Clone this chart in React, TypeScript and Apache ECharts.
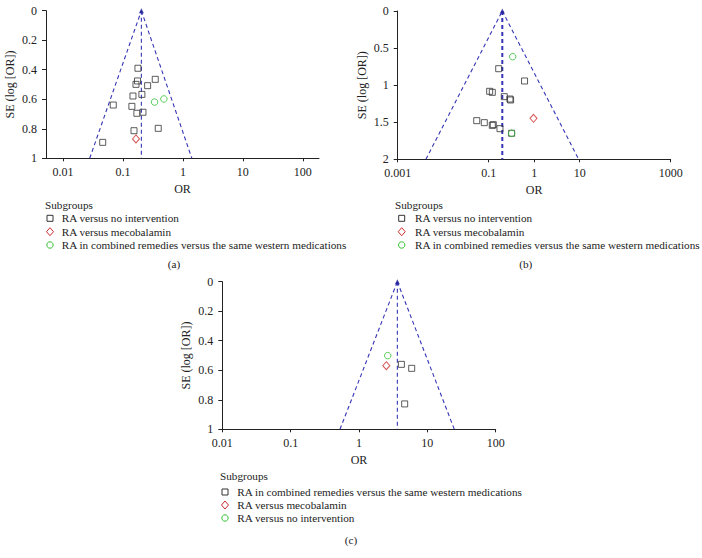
import React, { useEffect, useRef } from "react";
import * as echarts from "echarts";

const FONT = '"Liberation Serif", "Times New Roman", serif';

// ---------- Panel (a) ----------
const aSquareOR = [0.178, 0.346, 0.175, 0.165, 0.258, 0.207, 0.147, 0.069, 0.141, 0.171, 0.216, 0.388, 0.153, 0.046];
const aSquareSE = [0.39, 0.465, 0.476, 0.499, 0.508, 0.567, 0.578, 0.639, 0.648, 0.695, 0.688, 0.797, 0.813, 0.892];
const aDiamondOR = [0.165];
const aDiamondSE = [0.869];
const aCircleOR = [0.337, 0.482];
const aCircleSE = [0.619, 0.598];
const aFunnelOR = [0.0279, 0.203, 1.41]; // left base, apex, right base
const aFunnelSE = [1, 0, 1];
const aTickLabels = ["0.01", "0.1", "1", "10", "100"];
const aLegend = ["RA versus no intervention", "RA versus mecobalamin", "RA in combined remedies versus the same western medications"];

// ---------- Panel (b) ----------
const bSquareOR = [0.166, 0.614, 0.105, 0.12, 0.22, 0.293, 0.303, 0.0546, 0.08, 0.12, 0.126, 0.177, 0.319];
const bSquareSE = [0.778, 0.944, 1.083, 1.097, 1.155, 1.187, 1.2, 1.479, 1.506, 1.542, 1.533, 1.587, 1.649];
const bDiamondOR = [0.966];
const bDiamondSE = [1.447];
const bCircleOR = [0.336, 0.319];
const bCircleSE = [0.616, 1.649];
const bFunnelOR = [0.00417, 0.199, 9.5];
const bFunnelSE = [2, 0, 2];
const bTickLabels = ["0.001", "0.1", "1", "10", "1000"];
const bLegend = ["RA versus no intervention", "RA versus mecobalamin", "RA in combined remedies versus the same western medications"];

// ---------- Panel (c) ----------
const cSquareOR = [4.17, 5.9, 4.66];
const cSquareSE = [0.56, 0.587, 0.828];
const cDiamondOR = [2.51];
const cDiamondSE = [0.569];
const cCircleOR = [2.63];
const cCircleSE = [0.501];
const cFunnelOR = [0.527, 3.64, 24.8];
const cFunnelSE = [1, 0, 1];
const cTickLabels = ["0.01", "0.1", "1", "10", "100"];
const cLegend = ["RA in combined remedies versus the same western medications", "RA versus mecobalamin", "RA versus no intervention"];

const BLUE = "#3535b5";
const SQ = "#333333";
const RED = "#cc2b2b";
const GREEN = "#2fc12f";

const lg = (v: number) => Math.log10(v);
const pts = (or: number[], se: number[]) => or.map((o, i) => [lg(o), se[i]]);

function buildPanel(
  idx: number,
  grid: { left: number; top: number; width: number; height: number },
  xMin: number,
  xMax: number,
  yMax: number,
  yInterval: number,
  tickLabels: string[],
  sq: [number[], number[]],
  di: [number[], number[]],
  ci: [number[], number[]],
  fOR: number[],
  fSE: number[],
  nameGapY: number,
  centerWidth: number
) {
  const tickVals = tickLabels.map((t) => lg(parseFloat(t)));
  const xAxis = {
    type: "value",
    gridIndex: idx,
    min: xMin,
    max: xMax,
    name: "OR",
    nameLocation: "middle",
    nameGap: 25,
    nameTextStyle: { fontFamily: FONT, fontSize: 12, color: "#222" },
    axisLine: { onZero: false, lineStyle: { color: "#222", width: 1 } },
    axisTick: { show: true, length: 3, customValues: tickVals, lineStyle: { color: "#222" } },
    axisLabel: {
      customValues: tickVals,
      fontFamily: FONT,
      fontSize: 12,
      color: "#222",
      margin: 8,
      formatter: (v: number) => {
        const i = tickVals.findIndex((t) => Math.abs(t - v) < 1e-6);
        return i >= 0 ? tickLabels[i] : "";
      },
    },
    splitLine: { show: false },
  };
  const yAxis = {
    type: "value",
    gridIndex: idx,
    inverse: true,
    min: 0,
    max: yMax,
    interval: yInterval,
    name: "SE (log [OR])",
    nameLocation: "middle",
    nameGap: nameGapY,
    nameTextStyle: { fontFamily: FONT, fontSize: 12, color: "#222" },
    axisLine: { show: true, onZero: false, lineStyle: { color: "#222", width: 1 } },
    axisTick: { show: true, length: 4, lineStyle: { color: "#222" } },
    axisLabel: { fontFamily: FONT, fontSize: 12, color: "#222", margin: 9 },
    splitLine: { show: false },
  };
  const apex = [lg(fOR[1]), fSE[1]];
  const dashed = { type: [4, 3] as number[], color: BLUE, width: 1.1 };
  const series = [
    {
      type: "line",
      xAxisIndex: idx,
      yAxisIndex: idx,
      data: [[lg(fOR[0]), fSE[0]], apex],
      symbol: "none",
      lineStyle: dashed,
      silent: true,
      z: 1,
    },
    {
      type: "line",
      xAxisIndex: idx,
      yAxisIndex: idx,
      data: [apex, [lg(fOR[2]), fSE[2]]],
      symbol: "none",
      lineStyle: dashed,
      silent: true,
      z: 1,
    },
    {
      type: "line",
      xAxisIndex: idx,
      yAxisIndex: idx,
      data: [apex, [apex[0], fSE[0]]],
      symbol: "none",
      lineStyle: { ...dashed, width: centerWidth },
      silent: true,
      z: 1,
    },
    {
      type: "scatter",
      xAxisIndex: idx,
      yAxisIndex: idx,
      data: [apex],
      symbol: "triangle",
      symbolSize: 5,
      itemStyle: { color: "#1f1f9a" },
      z: 3,
    },
    {
      type: "scatter",
      xAxisIndex: idx,
      yAxisIndex: idx,
      data: pts(sq[0], sq[1]),
      symbol: "rect",
      symbolSize: 6,
      itemStyle: { color: "rgba(255,255,255,0)", borderColor: SQ, borderWidth: 1 },
      z: 4,
    },
    {
      type: "scatter",
      xAxisIndex: idx,
      yAxisIndex: idx,
      data: pts(di[0], di[1]),
      symbol: "diamond",
      symbolSize: [7, 8],
      itemStyle: { color: "rgba(255,255,255,0)", borderColor: RED, borderWidth: 1 },
      z: 4,
    },
    {
      type: "scatter",
      xAxisIndex: idx,
      yAxisIndex: idx,
      data: pts(ci[0], ci[1]),
      symbol: "circle",
      symbolSize: 6.5,
      itemStyle: { color: "rgba(255,255,255,0)", borderColor: GREEN, borderWidth: 1 },
      z: 4,
    },
  ];
  return {
    grid: { ...grid, containLabel: false, outerBoundsMode: "none" },
    xAxis,
    yAxis,
    series,
  };
}

function legendGraphics(
  x: number,
  y: number,
  symX: number,
  textX: number,
  rows: number[],
  labels: string[],
  caption: string,
  capX: number,
  capY: number,
  symbols: string[]
) {
  const els: any[] = [];
  const textStyle = (text: string, tx: number, ty: number, align = "left") => ({
    type: "text",
    x: tx,
    y: ty,
    style: {
      text,
      font: `11.2px ${FONT}`,
      fill: "#222",
      textAlign: align,
      textVerticalAlign: "middle",
    },
  });
  els.push(textStyle("Subgroups", x, y));
  rows.forEach((ry, i) => {
    const s = symbols[i];
    if (s === "square") {
      els.push({
        type: "rect",
        shape: { x: symX - 3, y: ry - 3, width: 6, height: 6 },
        style: { fill: "none", stroke: SQ, lineWidth: 1 },
      });
    } else if (s === "diamond") {
      els.push({
        type: "polygon",
        shape: { points: [[symX, ry - 4], [symX + 3.5, ry], [symX, ry + 4], [symX - 3.5, ry]] },
        style: { fill: "none", stroke: RED, lineWidth: 1 },
      });
    } else {
      els.push({
        type: "circle",
        shape: { cx: symX, cy: ry, r: 3.2 },
        style: { fill: "none", stroke: GREEN, lineWidth: 1 },
      });
    }
    els.push(textStyle(labels[i], textX, ry));
  });
  els.push(textStyle(caption, capX, capY, "center"));
  return els;
}

export default function App() {
  const ref = useRef<HTMLDivElement>(null);
  useEffect(() => {
    if (!ref.current) return;
    const chart = echarts.init(ref.current, undefined, { renderer: "svg" });
    const pa = buildPanel(
      0,
      { left: 46, top: 10.7, width: 273, height: 147.6 },
      -2.283,
      2.27,
      1,
      0.2,
      aTickLabels,
      [aSquareOR, aSquareSE],
      [aDiamondOR, aDiamondSE],
      [aCircleOR, aCircleSE],
      aFunnelOR,
      aFunnelSE,
      30,
      1.1
    );
    const pb = buildPanel(
      1,
      { left: 397.7, top: 11, width: 273, height: 148.3 },
      -3,
      3,
      2,
      0.5,
      bTickLabels,
      [bSquareOR, bSquareSE],
      [bDiamondOR, bDiamondSE],
      [bCircleOR, bCircleSE],
      bFunnelOR,
      bFunnelSE,
      30,
      2
    );
    const pc = buildPanel(
      2,
      { left: 222.3, top: 281.7, width: 273.4, height: 147.6 },
      -2,
      2,
      1,
      0.2,
      cTickLabels,
      [cSquareOR, cSquareSE],
      [cDiamondOR, cDiamondSE],
      [cCircleOR, cCircleSE],
      cFunnelOR,
      cFunnelSE,
      30,
      1.1
    );
    const graphics = [
      ...legendGraphics(45, 205, 50, 61.7, [218.3, 231.7, 245], aLegend, "(a)", 174, 264, ["square", "diamond", "circle"]),
      ...legendGraphics(395, 205, 401.7, 415, [218.3, 231.7, 245], bLegend, "(b)", 525.7, 264, ["square", "diamond", "circle"]),
      ...legendGraphics(220, 476, 225, 237.3, [492, 505, 518], cLegend, "(c)", 351, 540, ["square", "diamond", "circle"]),
    ];
    chart.setOption({
      animation: false,
      backgroundColor: "#ffffff",
      textStyle: { fontFamily: FONT },
      grid: [pa.grid, pb.grid, pc.grid],
      xAxis: [pa.xAxis, pb.xAxis, pc.xAxis],
      yAxis: [pa.yAxis, pb.yAxis, pc.yAxis],
      series: [...pa.series, ...pb.series, ...pc.series],
      graphic: graphics,
    });
    return () => chart.dispose();
  }, []);
  return (
    <div
      ref={ref}
      style={{ position: "fixed", left: 0, top: 0, width: 702, height: 558, background: "#fff" }}
    />
  );
}
